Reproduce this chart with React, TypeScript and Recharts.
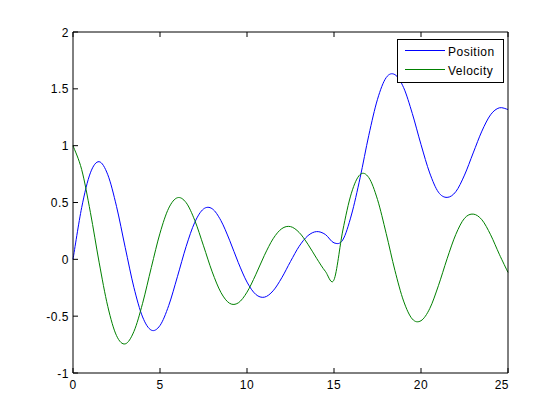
import React from 'react';
import { LineChart, Line, XAxis, YAxis, Legend } from 'recharts';

const tValues = [
  0, 0.5, 1, 1.5, 2, 2.5, 3, 3.5, 4, 4.5, 5, 5.5, 6, 6.5, 7, 7.5, 8, 8.5, 9, 9.5,
  10, 10.5, 11, 11.5, 12, 12.5, 13, 13.5, 14, 14.5, 15, 15.5, 16, 16.5, 17, 17.5,
  18, 18.5, 19, 19.5, 20, 20.5, 21, 21.5, 22, 22.5, 23, 23.5, 24, 24.5, 25,
];

const positionValues = [
  0, 0.456, 0.761, 0.859, 0.744, 0.466, 0.105, -0.247, -0.507, -0.623, -0.582, -0.407,
  -0.153, 0.112, 0.326, 0.443, 0.445, 0.341, 0.168, -0.029, -0.2, -0.308, -0.333, -0.277,
  -0.162, -0.019, 0.115, 0.208, 0.244, 0.219, 0.145, 0.17, 0.39, 0.717, 1.091, 1.408,
  1.599, 1.625, 1.511, 1.283, 1.01, 0.76, 0.591, 0.545, 0.595, 0.741, 0.936, 1.128,
  1.272, 1.333, 1.318,
];

const velocityValues = [
  1, 0.789, 0.413, -0.025, -0.415, -0.671, -0.744, -0.635, -0.387, -0.072, 0.23, 0.45,
  0.542, 0.499, 0.342, 0.119, -0.11, -0.291, -0.387, -0.383, -0.289, -0.136, 0.035, 0.181,
  0.27, 0.288, 0.236, 0.133, 0.009, -0.105, -0.18, 0.249, 0.582, 0.746, 0.719, 0.526,
  0.227, -0.097, -0.367, -0.525, -0.54, -0.434, -0.232, 0.005, 0.219, 0.361, 0.398, 0.348,
  0.216, 0.045, -0.115,
];

const xTicks = [0, 5, 10, 15, 20, 25];
const yTicks = [-1, -0.5, 0, 0.5, 1, 1.5, 2];
const seriesNames = ['Position', 'Velocity'];
const seriesColors = ['#0000ff', '#008000'];

const data = tValues.map((t, i) => ({
  t,
  position: positionValues[i],
  velocity: velocityValues[i],
}));

const FONT = '"Liberation Sans", Arial, Helvetica, sans-serif';
const TICK = 5;

// Local (Catmull-Rom) smoothing curve: passes through every data point, no ringing.
function catmullRomCurve(context: any) {
  let pts: [number, number][] = [];
  return {
    areaStart() {},
    areaEnd() {},
    lineStart() {
      pts = [];
    },
    lineEnd() {
      const n = pts.length;
      if (n === 0) return;
      context.moveTo(pts[0][0], pts[0][1]);
      for (let i = 0; i < n - 1; i++) {
        const p0 = pts[i - 1] || pts[i];
        const p1 = pts[i];
        const p2 = pts[i + 1];
        const p3 = pts[i + 2] || p2;
        context.bezierCurveTo(
          p1[0] + (p2[0] - p0[0]) / 6,
          p1[1] + (p2[1] - p0[1]) / 6,
          p2[0] - (p3[0] - p1[0]) / 6,
          p2[1] - (p3[1] - p1[1]) / 6,
          p2[0],
          p2[1]
        );
      }
    },
    point(x: number, y: number) {
      pts.push([+x, +y]);
    },
  };
}

function BottomTick(props: any) {
  const { x, y, payload } = props;
  const isLast = payload.value === xTicks[xTicks.length - 1];
  return (
    <g>
      <line x1={x} y1={y} x2={x} y2={y - TICK} stroke="#000" />
      <text
        x={isLast ? x + 1 : x}
        y={y + 16}
        textAnchor={isLast ? 'end' : 'middle'}
        fontFamily={FONT}
        fontSize={12}
        letterSpacing={0.5}
        fill="#000"
      >
        {payload.value}
      </text>
    </g>
  );
}

function TopTick(props: any) {
  const { x, y } = props;
  return <line x1={x} y1={y} x2={x} y2={y + TICK} stroke="#000" />;
}

function LeftTick(props: any) {
  const { x, y, payload } = props;
  return (
    <g>
      <line x1={x} y1={y} x2={x + TICK} y2={y} stroke="#000" />
      <text
        x={x - 4}
        y={y + 4.5}
        textAnchor="end"
        fontFamily={FONT}
        fontSize={12}
        letterSpacing={0.5}
        fill="#000"
      >
        {payload.value}
      </text>
    </g>
  );
}

function RightTick(props: any) {
  const { x, y } = props;
  return <line x1={x} y1={y} x2={x - TICK} y2={y} stroke="#000" />;
}

function LegendBox(props: any) {
  const items = (props.payload || []) as any[];
  return (
    <svg width={107} height={44} style={{ display: 'block' }}>
      <rect x={0.5} y={0.5} width={106} height={43} fill="#fff" stroke="#000" />
      {items.map((entry, i) => (
        <g key={entry.value}>
          <line
            x1={8}
            x2={48}
            y1={11.5 + i * 19}
            y2={11.5 + i * 19}
            stroke={entry.color}
          />
          <text
            x={51}
            y={16.5 + i * 19}
            fontFamily={FONT}
            fontSize={12}
            letterSpacing={0.5}
            fill="#000"
          >
            {entry.value}
          </text>
        </g>
      ))}
    </svg>
  );
}

export default function App() {
  return (
    <div style={{ position: 'absolute', left: 0, top: 0, width: 560, height: 420, background: '#fff' }}>
      <LineChart
        width={560}
        height={420}
        data={data}
        margin={{ top: 0, right: 0, bottom: 0, left: 0 }}
      >
        <XAxis
          dataKey="t"
          type="number"
          domain={[0, 25]}
          ticks={xTicks}
          interval={0}
          height={47}
          tickSize={0}
          tickMargin={0}
          tickLine={false}
          axisLine={{ stroke: '#000' }}
          tick={<BottomTick />}
        />
        <XAxis
          xAxisId="top"
          orientation="top"
          dataKey="t"
          type="number"
          domain={[0, 25]}
          ticks={xTicks}
          interval={0}
          height={32}
          tickSize={0}
          tickMargin={0}
          tickLine={false}
          axisLine={{ stroke: '#000' }}
          tick={<TopTick />}
        />
        <YAxis
          type="number"
          domain={[-1, 2]}
          ticks={yTicks}
          interval={0}
          width={73}
          tickSize={0}
          tickMargin={0}
          tickLine={false}
          axisLine={{ stroke: '#000' }}
          tick={<LeftTick />}
        />
        <YAxis
          yAxisId="right"
          orientation="right"
          type="number"
          domain={[-1, 2]}
          ticks={yTicks}
          interval={0}
          width={52}
          tickSize={0}
          tickMargin={0}
          tickLine={false}
          axisLine={{ stroke: '#000' }}
          tick={<RightTick />}
        />
        <Line
          type={catmullRomCurve as any}
          dataKey="position"
          name={seriesNames[0]}
          stroke={seriesColors[0]}
          strokeWidth={1}
          dot={false}
          isAnimationActive={false}
        />
        <Line
          type={catmullRomCurve as any}
          dataKey="velocity"
          name={seriesNames[1]}
          stroke={seriesColors[1]}
          strokeWidth={1}
          dot={false}
          isAnimationActive={false}
        />
        <Legend
          layout="horizontal"
          verticalAlign="middle"
          align="center"
          content={<LegendBox />}
          wrapperStyle={{ position: 'absolute', left: 397, top: 39, width: 107, height: 44 }}
        />
      </LineChart>
    </div>
  );
}
